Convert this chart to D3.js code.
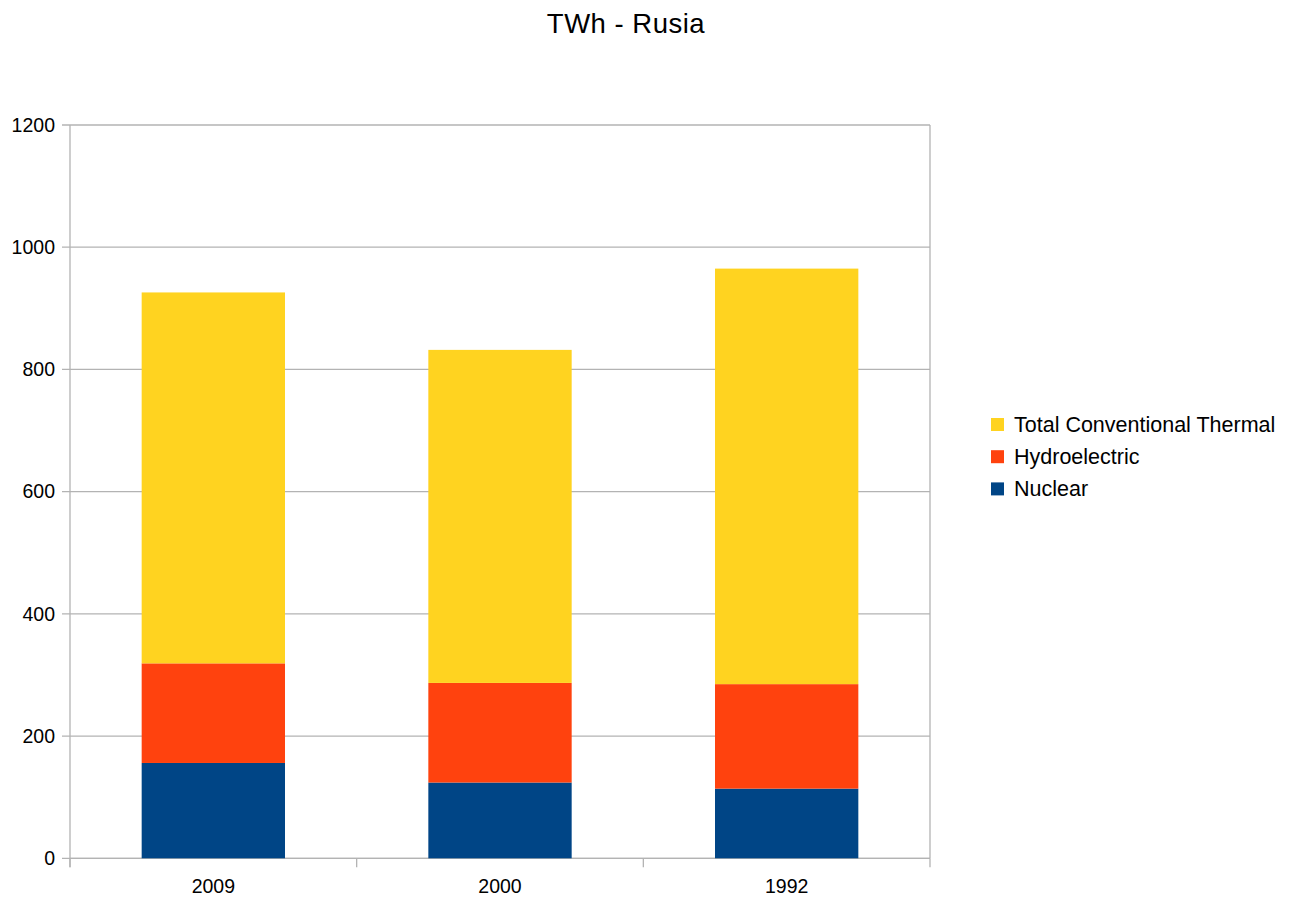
<!DOCTYPE html>
<html>
<head>
<meta charset="utf-8">
<script src="https://cdn.jsdelivr.net/npm/d3@7"></script>
<style>
  body { margin: 0; background: #fff; }
  text { font-family: "Liberation Sans", Arial, sans-serif; fill: #000; }
</style>
</head>
<body>
<svg id="chart" width="1289" height="900"></svg>
<script>
// Electricity generation in Russia, TWh by source
const years = ["2009", "2000", "1992"];
const nuclear = [156, 124, 114];
const hydroelectric = [163, 163, 171];
const thermal = [607, 545, 680];
const seriesNames = ["Nuclear", "Hydroelectric", "Total Conventional Thermal"];
const seriesColors = ["#004586", "#ff420e", "#ffd320"];
const yTicks = [0, 200, 400, 600, 800, 1000, 1200];

const rows = years.map((y, i) => ({
  year: y,
  "Nuclear": nuclear[i],
  "Hydroelectric": hydroelectric[i],
  "Total Conventional Thermal": thermal[i]
}));

const svg = d3.select("#chart");
const plotLeft = 70, plotRight = 930, plotTop = 125, plotBottom = 858.3;

const x = d3.scaleBand().domain(years).range([plotLeft, plotRight]).paddingInner(0.5).paddingOuter(0.25);
const xEdges = d3.scalePoint().domain(d3.range(years.length + 1)).range([plotLeft, plotRight]);
const y = d3.scaleLinear().domain([0, 1200]).range([plotBottom, plotTop]);

// horizontal grid lines
svg.append("g").selectAll("line").data(yTicks).join("line")
  .attr("x1", plotLeft - 8).attr("x2", plotRight)
  .attr("y1", d => y(d)).attr("y2", d => y(d))
  .attr("stroke", "#b3b3b3").attr("stroke-width", 1.3);

// plot frame right edge
svg.append("line").attr("x1", plotRight).attr("x2", plotRight).attr("y1", plotTop).attr("y2", plotBottom)
  .attr("stroke", "#b3b3b3").attr("stroke-width", 1.3);

// y axis
svg.append("line").attr("x1", plotLeft).attr("x2", plotLeft).attr("y1", plotTop).attr("y2", plotBottom + 9)
  .attr("stroke", "#b3b3b3").attr("stroke-width", 1.3);
svg.append("g").selectAll("text").data(yTicks).join("text")
  .attr("x", plotLeft - 15).attr("y", d => y(d)).attr("dy", "0.35em")
  .attr("text-anchor", "end").attr("font-size", 19.5).text(d => d);

// x axis ticks between categories
svg.append("g").selectAll("line").data(d3.range(years.length + 1)).join("line")
  .attr("x1", d => xEdges(d)).attr("x2", d => xEdges(d))
  .attr("y1", plotBottom).attr("y2", plotBottom + 9)
  .attr("stroke", "#b3b3b3").attr("stroke-width", 1.3);
svg.append("line").attr("x1", plotLeft).attr("x2", plotRight).attr("y1", plotBottom).attr("y2", plotBottom)
  .attr("stroke", "#b3b3b3").attr("stroke-width", 1.3);

// stacked bars
const stack = d3.stack().keys(seriesNames)(rows);
svg.append("g").selectAll("g").data(stack).join("g")
  .attr("fill", (d, i) => seriesColors[i])
  .selectAll("rect").data(d => d).join("rect")
  .attr("x", d => x(d.data.year))
  .attr("width", x.bandwidth())
  .attr("y", d => y(d[1]))
  .attr("height", d => y(d[0]) - y(d[1]));

// category labels
svg.append("g").selectAll("text").data(years).join("text")
  .attr("x", d => x(d) + x.bandwidth() / 2).attr("y", 893)
  .attr("text-anchor", "middle").attr("font-size", 19.5).text(d => d);

// title
svg.append("text").attr("x", 626).attr("y", 33).attr("text-anchor", "middle")
  .attr("font-size", 27.5).attr("letter-spacing", 0.5).text("TWh - Rusia");

// legend, top entry first
const legendItems = seriesNames.map((n, i) => ({ name: n, color: seriesColors[i] })).reverse();
const lg = svg.append("g").selectAll("g").data(legendItems).join("g")
  .attr("transform", (d, i) => `translate(991, ${424.5 + i * 32.2})`);
lg.append("rect").attr("y", -6.5).attr("width", 13).attr("height", 13).attr("fill", d => d.color);
lg.append("text").attr("x", 23).attr("y", 0).attr("dy", "0.35em")
  .attr("font-size", 21.5).text(d => d.name);
</script>
</body>
</html>
